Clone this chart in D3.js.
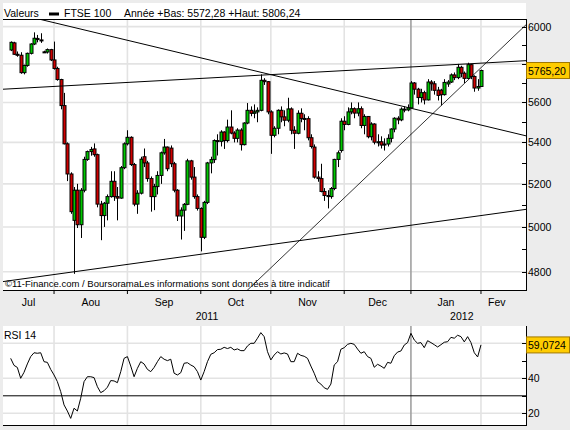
<!DOCTYPE html>
<html lang="fr">
<head>
<meta charset="utf-8">
<title>FTSE 100</title>
<script src="https://d3js.org/d3.v7.min.js"></script>
<style>
  body { margin: 0; background: #ececec; }
  text { font-family: "Liberation Sans", Arial, sans-serif; font-size: 10.5px; fill: #000; }
</style>
</head>
<body>
<svg id="chart" width="570" height="430"></svg>
<script>
// daily candles, FTSE 100, 13 Jul 2011 -> 1 Feb 2012 (one entry per session)
var opens = [5874,5912,5851,5846,5754,5792,5856,5906,5936,5928,5864,5863,5876,
  5821,5776,5718,5584,5393,5247,5030,5170,5010,5170,5317,5355,5368,5340,5105,5052,5109,5140,5212,5140,5133,5277,
  5393,5425,5292,5105,5156,5330,5300,5225,5140,5187,5240,5349,5377,5372,5296,5170,5050,5077,5104,5310,5232,5140,
  5085,4953,5113,5300,5316,5409,5405,5451,5409,5476,5446,5420,5461,5389,5496,5560,5545,5552,5560,5714,5707,
  5552,5435,5470,5560,5527,5510,5567,5460,5445,5545,5519,5518,5423,5377,5232,5225,5164,5145,5140,5178,5317,5360,
  5505,5489,5552,5568,5546,5568,5484,5529,5428,5491,5401,5403,5387,5392,5420,5466,5520,5512,5566,5562,
  5572.28,5700,5668,5625,5650,5613,5705,5696,5663,5663,5640,5695,5705,5742,5728,5782,5751,5724,5796,5734,5674,
  5682];
var highs = [5920,5918,5866,5862,5796,5860,5910,5969,5955,5964,5870,5882,5880,
  5919,5785,5722,5649,5400,5255,5185,5200,5180,5330,5360,5378,5395,5345,5120,5115,5150,5260,5260,5185,5285,5400,
  5460,5430,5300,5170,5330,5370,5310,5235,5200,5260,5355,5417,5380,5385,5305,5175,5090,5110,5320,5315,5280,5150,
  5090,5120,5305,5330,5415,5440,5460,5455,5513,5560,5455,5470,5470,5500,5597,5580,5590,5575,5745,5725,5710,
  5560,5480,5565,5580,5560,5624,5575,5480,5560,5570,5540,5530,5440,5390,5260,5296,5180,5170,5185,5320,5360,5520,
  5530,5575,5600,5575,5600,5580,5540,5530,5500,5495,5440,5430,5420,5440,5470,5525,5530,5575,5580,5590,
  5710,5705,5675,5670,5660,5720,5715,5710,5680,5670,5720,5715,5750,5755,5800,5790,5760,5806.24,5800,5740,5720,
  5770];
var lows = [5868,5848,5838,5748,5745,5785,5850,5900,5915,5912,5858,5855,5815,
  5770,5712,5565,5390,5213,5060,4791,4995,4950,5160,5310,5335,5330,5090,4940,5000,5030,5135,5120,5030,5130,5270,
  5385,5285,5095,5060,5150,5280,5210,5070,5077,5150,5200,5340,5260,5280,5160,5027,4943,4982,5100,5220,5130,5075,
  4890,4945,5105,5250,5300,5336,5380,5368,5400,5440,5400,5400,5360,5385,5490,5530,5520,5500,5555,5690,5540,
  5344,5425,5440,5500,5480,5500,5440,5368,5440,5500,5460,5410,5370,5225,5210,5160,5120,5085,5130,5170,5280,5350,
  5460,5485,5540,5520,5530,5470,5440,5420,5410,5390,5380,5370,5360,5380,5400,5450,5490,5505,5550,5555,
  5572.28,5640,5590,5600,5590,5610,5660,5640,5610,5585,5635,5680,5700,5715,5720,5730,5700,5720,5720,5655,5660,
  5680];
var closes = [5915,5851,5846,5754,5792,5856,5906,5937,5930,5926,5863,5876,5821,
  5776,5718,5584,5393,5247,5070,5170,5010,5170,5317,5355,5365,5340,5105,5052,5109,5140,5212,5140,5133,5277,5393,
  5425,5292,5105,5156,5318,5300,5225,5140,5187,5240,5349,5377,5272,5296,5170,5050,5077,5104,5310,5232,5140,5085,
  4953,5113,5300,5316,5409,5405,5451,5409,5476,5446,5420,5461,5389,5496,5560,5545,5552,5560,5714,5707,5552,
  5435,5470,5560,5527,5510,5567,5460,5445,5545,5519,5518,5423,5380,5232,5225,5164,5145,5140,5178,5317,5349,5505,
  5489,5552,5568,5546,5568,5484,5529,5428,5491,5401,5403,5387,5392,5420,5466,5520,5512,5566,5562,5572.28,
  5700,5668,5625,5650,5613,5705,5696,5662,5636,5640,5703,5705,5742,5728,5782,5751,5724,5796,5734,5674,5682,
  5765.20];

// RSI 14, one value per session
var rsi14 = [51.4,47.4,46.2,40.0,43.4,48.2,52.4,54.6,54.3,54.6,49.5,49.1,45.1,
  41.9,38.1,32.4,24.8,21.3,17.1,22.9,21.3,28.6,38.1,40.9,40.9,40.4,35.2,31.8,32.9,34.9,38.7,38.5,37.5,43.8,51.4,
  52.4,47.0,40.9,45.7,49.5,48.2,45.1,43.8,46.2,49.5,52.4,50.9,50.1,50.9,42.9,41.9,43.2,48.6,48.9,47.6,46.6,43.8,
  39.0,43.8,49.5,53.7,54.6,56.4,56.6,57.7,57.0,57.7,56.2,56.8,55.8,55.8,58.5,60.0,60.0,62.9,66.1,63.8,55.2,
  50.5,53.3,55.2,53.9,54.5,53.9,49.5,49.5,54.3,53.1,52.6,51.4,47.0,42.9,38.1,36.7,34.6,33.7,36.7,47.6,49.5,56.6,
  57.5,59.4,60.0,59.4,56.7,54.3,55.2,52.4,51.4,46.3,48.0,47.0,45.7,49.1,48.6,52.9,55.0,55.6,59.0,60.4,
  65.7,61.9,60.0,60.4,57.5,61.5,60.4,59.2,57.9,59.2,60.6,60.9,63.4,62.9,64.6,63.8,60.8,63.8,60.4,54.6,52.2,
  59.0724];

// axis labels
var monthNames = ["Jul","Aou","Sep","Oct","Nov","Dec","Jan","Fev"];
var monthStarts = [13,35,57,78,100,120,141];     // session index of 1st session of Aug..Feb
var yearNames = ["2011","2012"];
var yearStart = 120;
var priceTicks = [4800,5000,5200,5400,5600,5800,6000];
var priceMinor = [4900,5100,5300,5500,5700,5900];
var rsiTicks = [20,40,60];
var rsiMinor = [30,50];
var rsiLevel = 30;

// hand drawn trend lines: two [session, price] anchors each
var trendLines = [
  {a: [10, 6035], b: [141, 5486], w: 1},
  {a: [0, 5670],  b: [141, 5804], w: 1},
  {a: [19, 4800], b: [141, 5052], w: 1},
  {a: [95, 5060], b: [141, 5780], w: 0.8}
];

var header = {name: "FTSE 100", info: "Année +Bas: 5572,28 +Haut: 5806,24"};

// ---------------------------------------------------------------
var L = 3, R = 526, T = 19, B = 290;      // main panel
var rT = 326, rB = 425;                   // rsi panel

var svg = d3.select("#chart");

var x = d3.scaleLinear().domain([-2.3, 154.5]).range([L, R]);
var y = d3.scaleLog().domain([4721, 6042]).range([B, T]);
var yR = d3.scaleLinear().domain([20, 60]).range([413.3, 343.3]);

var comma = function(f) { return function(v) { return d3.format(f)(v).replace(".", ","); }; };

svg.append("rect").attr("width", 570).attr("height", 430).attr("fill", "#ececec");
svg.append("rect").attr("x", L).attr("y", 3).attr("width", R - L).attr("height", B - 3).attr("fill", "#fff");
svg.append("rect").attr("x", L).attr("y", rT).attr("width", R - L).attr("height", rB - rT).attr("fill", "#fff");

svg.append("clipPath").attr("id", "clipMain")
  .append("rect").attr("x", L).attr("y", T).attr("width", R - L).attr("height", B - T);
svg.append("clipPath").attr("id", "clipRsi")
  .append("rect").attr("x", L).attr("y", rT).attr("width", R - L).attr("height", rB - rT);

// grid
var grid = svg.append("g");
grid.selectAll(".hg").data(priceTicks).enter().append("line")
  .attr("x1", L).attr("x2", R)
  .attr("y1", function(d) { return y(d); }).attr("y2", function(d) { return y(d); })
  .attr("stroke", "#e3e3e3").attr("stroke-width", 1.6);
grid.selectAll(".hr").data(rsiTicks).enter().append("line")
  .attr("x1", L).attr("x2", R)
  .attr("y1", function(d) { return yR(d); }).attr("y2", function(d) { return yR(d); })
  .attr("stroke", "#e3e3e3").attr("stroke-width", 1.6);
[[T, B], [rT, rB]].forEach(function(span) {
  grid.selectAll(null).data(monthStarts).enter().append("line")
    .attr("x1", function(d) { return x(d); }).attr("x2", function(d) { return x(d); })
    .attr("y1", span[0]).attr("y2", span[1])
    .attr("stroke", function(d) { return d === yearStart ? "#a0a0a0" : "#e3e3e3"; })
    .attr("stroke-width", 1.6);
});

// candles
var idx = d3.range(closes.length);
var candles = svg.append("g").attr("clip-path", "url(#clipMain)");
candles.selectAll(".wick").data(idx).enter().append("line")
  .attr("x1", function(i) { return Math.round(x(i)) + 0.5; })
  .attr("x2", function(i) { return Math.round(x(i)) + 0.5; })
  .attr("y1", function(i) { return y(highs[i]); })
  .attr("y2", function(i) { return y(lows[i]); })
  .attr("stroke", "#000").attr("stroke-width", 1);
candles.selectAll(".body").data(idx).enter().append("rect")
  .attr("x", function(i) { return Math.round(x(i)) - 1; })
  .attr("width", 3)
  .attr("y", function(i) { return y(Math.max(opens[i], closes[i])); })
  .attr("height", function(i) { return Math.max(1, Math.abs(y(opens[i]) - y(closes[i]))); })
  .attr("fill", function(i) { return closes[i] >= opens[i] ? "#00c800" : "#d00000"; })
  .attr("stroke", "#000").attr("stroke-width", 1);

// trend lines, extended to the panel edges
var tl = svg.append("g").attr("clip-path", "url(#clipMain)");
trendLines.forEach(function(t) {
  var x1 = x(t.a[0]), y1 = y(t.a[1]), x2 = x(t.b[0]), y2 = y(t.b[1]);
  var m = (y2 - y1) / (x2 - x1);
  tl.append("line")
    .attr("x1", L).attr("y1", y1 + m * (L - x1))
    .attr("x2", R).attr("y2", y1 + m * (R - x1))
    .attr("stroke", "#000").attr("stroke-width", t.w);
});

// rsi
var rs = svg.append("g").attr("clip-path", "url(#clipRsi)");
rs.append("line").attr("x1", L).attr("x2", R)
  .attr("y1", yR(rsiLevel)).attr("y2", yR(rsiLevel)).attr("stroke", "#000");
rs.append("path").datum(idx)
  .attr("fill", "none").attr("stroke", "#000").attr("stroke-width", 1)
  .attr("d", d3.line().x(function(i) { return x(i); }).y(function(i) { return yR(rsi14[i]); }));

// frames
var frame = svg.append("g").attr("stroke", "#000").attr("stroke-width", 1);
frame.append("line").attr("x1", L).attr("x2", R).attr("y1", T + 0.5).attr("y2", T + 0.5);
frame.append("line").attr("x1", L).attr("x2", R).attr("y1", B + 0.5).attr("y2", B + 0.5);
frame.append("line").attr("x1", R + 0.5).attr("x2", R + 0.5).attr("y1", T).attr("y2", B + 1);
frame.append("line").attr("x1", L).attr("x2", R).attr("y1", rB + 0.5).attr("y2", rB + 0.5);
frame.append("line").attr("x1", R + 0.5).attr("x2", R + 0.5).attr("y1", rT).attr("y2", rB + 1);

// right axis ticks (inward)
frame.selectAll(null).data(priceTicks.concat(priceMinor)).enter().append("line")
  .attr("x1", R - 4).attr("x2", R)
  .attr("y1", function(d) { return Math.round(y(d)) + 0.5; })
  .attr("y2", function(d) { return Math.round(y(d)) + 0.5; });
frame.selectAll(null).data(rsiTicks.concat(rsiMinor)).enter().append("line")
  .attr("x1", R - 4).attr("x2", R)
  .attr("y1", function(d) { return Math.round(yR(d)) + 0.5; })
  .attr("y2", function(d) { return Math.round(yR(d)) + 0.5; });
// bottom ticks
frame.selectAll(null).data(monthStarts).enter().append("line")
  .attr("x1", function(d) { return x(d); }).attr("x2", function(d) { return x(d); })
  .attr("y1", B).attr("y2", B + 4);

// last values: the yellow box hides the tick label it sits on
var lastPx = y(closes[closes.length - 1]);
var lastRsiPx = yR(rsi14[rsi14.length - 1]);

svg.selectAll(".pl").data(priceTicks.filter(function(d) { return Math.abs(y(d) - lastPx) > 12; }))
  .enter().append("text")
  .attr("x", R + 2).attr("y", function(d) { return y(d) + 4; })
  .text(function(d) { return d; });
svg.selectAll(".rl").data(rsiTicks.filter(function(d) { return Math.abs(yR(d) - lastRsiPx) > 12; }))
  .enter().append("text")
  .attr("x", R + 2).attr("y", function(d) { return yR(d) + 4; })
  .text(function(d) { return d; });

function lastBox(yPos, label) {
  svg.append("rect").attr("x", R + 0.5).attr("y", yPos - 8).attr("width", 569 - R).attr("height", 16)
    .attr("fill", "#ffcc00").attr("stroke", "#a07800").attr("stroke-width", 1);
  svg.append("text").attr("x", R + 2).attr("y", yPos + 4).text(label);
}
lastBox(lastPx, comma(".2f")(closes[closes.length - 1]));
lastBox(lastRsiPx, comma(".4f")(rsi14[rsi14.length - 1]));

// month / year labels centred in their visible span
var lo = x.domain()[0], hi = 150.5;
var bounds = [lo].concat(monthStarts).concat([hi]);
svg.selectAll(".ml").data(monthNames).enter().append("text")
  .attr("text-anchor", "middle")
  .attr("x", function(d, i) { return (x(bounds[i]) + x(bounds[i + 1])) / 2; })
  .attr("y", 305.5)
  .text(function(d) { return d; });
var yb = [lo, yearStart, hi];
svg.selectAll(".yl").data(yearNames).enter().append("text")
  .attr("text-anchor", "middle")
  .attr("x", function(d, i) { return (x(yb[i]) + x(yb[i + 1])) / 2; })
  .attr("y", 319.5)
  .text(function(d) { return d; });

// header
svg.append("text").attr("x", 4).attr("y", 17).text("Valeurs");
svg.append("rect").attr("x", 49).attr("y", 12.5).attr("width", 10).attr("height", 3).attr("fill", "#000");
svg.append("text").attr("x", 64).attr("y", 17).text(header.name);
svg.append("text").attr("x", 124).attr("y", 17).text(header.info);

svg.append("text").attr("x", 4).attr("y", 339).text("RSI 14");
svg.append("text").attr("x", 5).attr("y", 287).style("font-size", "9.5px")
  .text("©11-Finance.com / BoursoramaLes informations sont données à titre indicatif");
</script>
</body>
</html>
